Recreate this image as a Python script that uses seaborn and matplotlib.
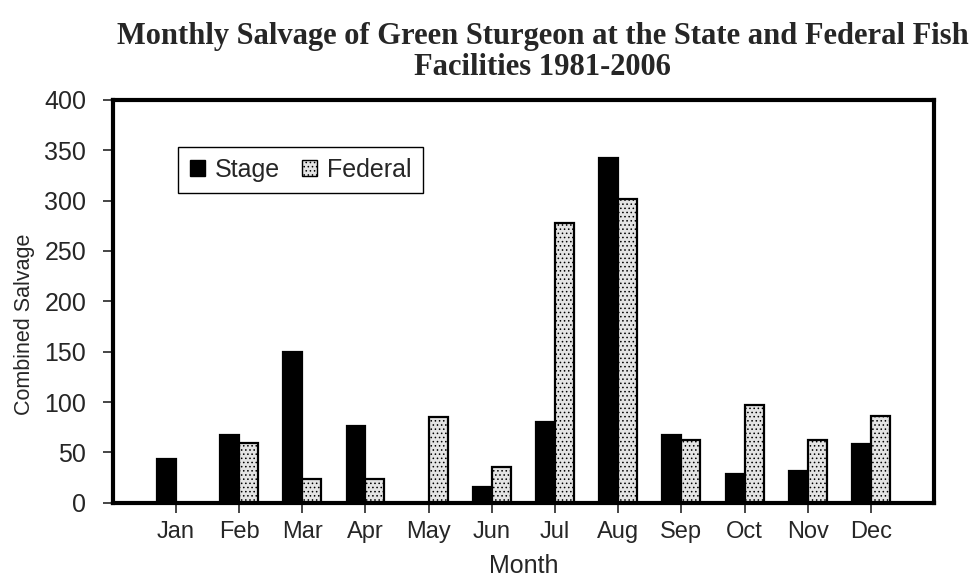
import matplotlib
matplotlib.use("Agg")
import matplotlib.pyplot as plt
from matplotlib.patches import Patch
import pandas as pd
import seaborn as sns

months = ["Jan", "Feb", "Mar", "Apr", "May", "Jun",
          "Jul", "Aug", "Sep", "Oct", "Nov", "Dec"]
state = [44, 67, 150, 76, 0, 16, 80, 342, 67, 29, 32, 58]
federal = [0, 59, 24, 24, 85, 36, 278, 302, 62, 97, 62, 86]
series_names = ["Stage", "Federal"]
y_ticks = [0, 50, 100, 150, 200, 250, 300, 350, 400]

df = pd.DataFrame({
    "Month": months * 2,
    "Salvage": state + federal,
    "Facility": [series_names[0]] * 12 + [series_names[1]] * 12,
})

sns.set_style("white")
plt.rcParams["font.family"] = ["Liberation Sans", "DejaVu Sans"]
plt.rcParams["hatch.linewidth"] = 0.6
plt.rcParams["hatch.color"] = "#555555"

fig = plt.figure(figsize=(9.72, 5.80), dpi=100)
ax = fig.add_axes([0.116, 0.133, 0.845, 0.695])

sns.barplot(data=df, x="Month", y="Salvage", hue="Facility",
            palette=["black", "#e4e4e4"], width=0.6,
            edgecolor="black", linewidth=1.6, ax=ax, legend=False)

# stipple the federal bars
for bar in ax.containers[1]:
    bar.set_hatch("....")

ax.set_xlim(-1, 12)
ax.set_ylim(0, 400)
ax.set_yticks(y_ticks)
ax.tick_params(axis="y", labelsize=18, direction="out", length=7, width=1.2, pad=12, left=True)
ax.tick_params(axis="x", labelsize=17, direction="out", length=7, width=1.2, pad=6, bottom=True)

for side in ["left", "right", "top", "bottom"]:
    ax.spines[side].set_linewidth(3)
    ax.spines[side].set_color("black")

ax.set_ylabel("Combined Salvage", fontsize=15.5)
ax.yaxis.set_label_coords(-0.095, 0.442)
ax.set_xlabel("Month", fontsize=18)
ax.xaxis.set_label_coords(0.5, -0.128)

handles = [Patch(facecolor="black", edgecolor="black"),
           Patch(facecolor="#e4e4e4", edgecolor="black", hatch="....")]
ax.legend(handles, series_names, ncol=2, loc="upper left",
          bbox_to_anchor=(0.080, 0.883), borderaxespad=0, fontsize=18,
          frameon=True, fancybox=False, edgecolor="black", framealpha=1,
          handlelength=0.6, handleheight=0.6, handletextpad=0.4,
          columnspacing=0.9, borderpad=0.45)

fig.text(0.558, 0.962, "Monthly Salvage of Green Sturgeon at the State and Federal Fish\nFacilities 1981-2006",
         ha="center", va="top", fontsize=22, fontweight="bold",
         family=["Liberation Serif", "DejaVu Serif"], linespacing=1.07)

fig.savefig("out.png", dpi=100)
